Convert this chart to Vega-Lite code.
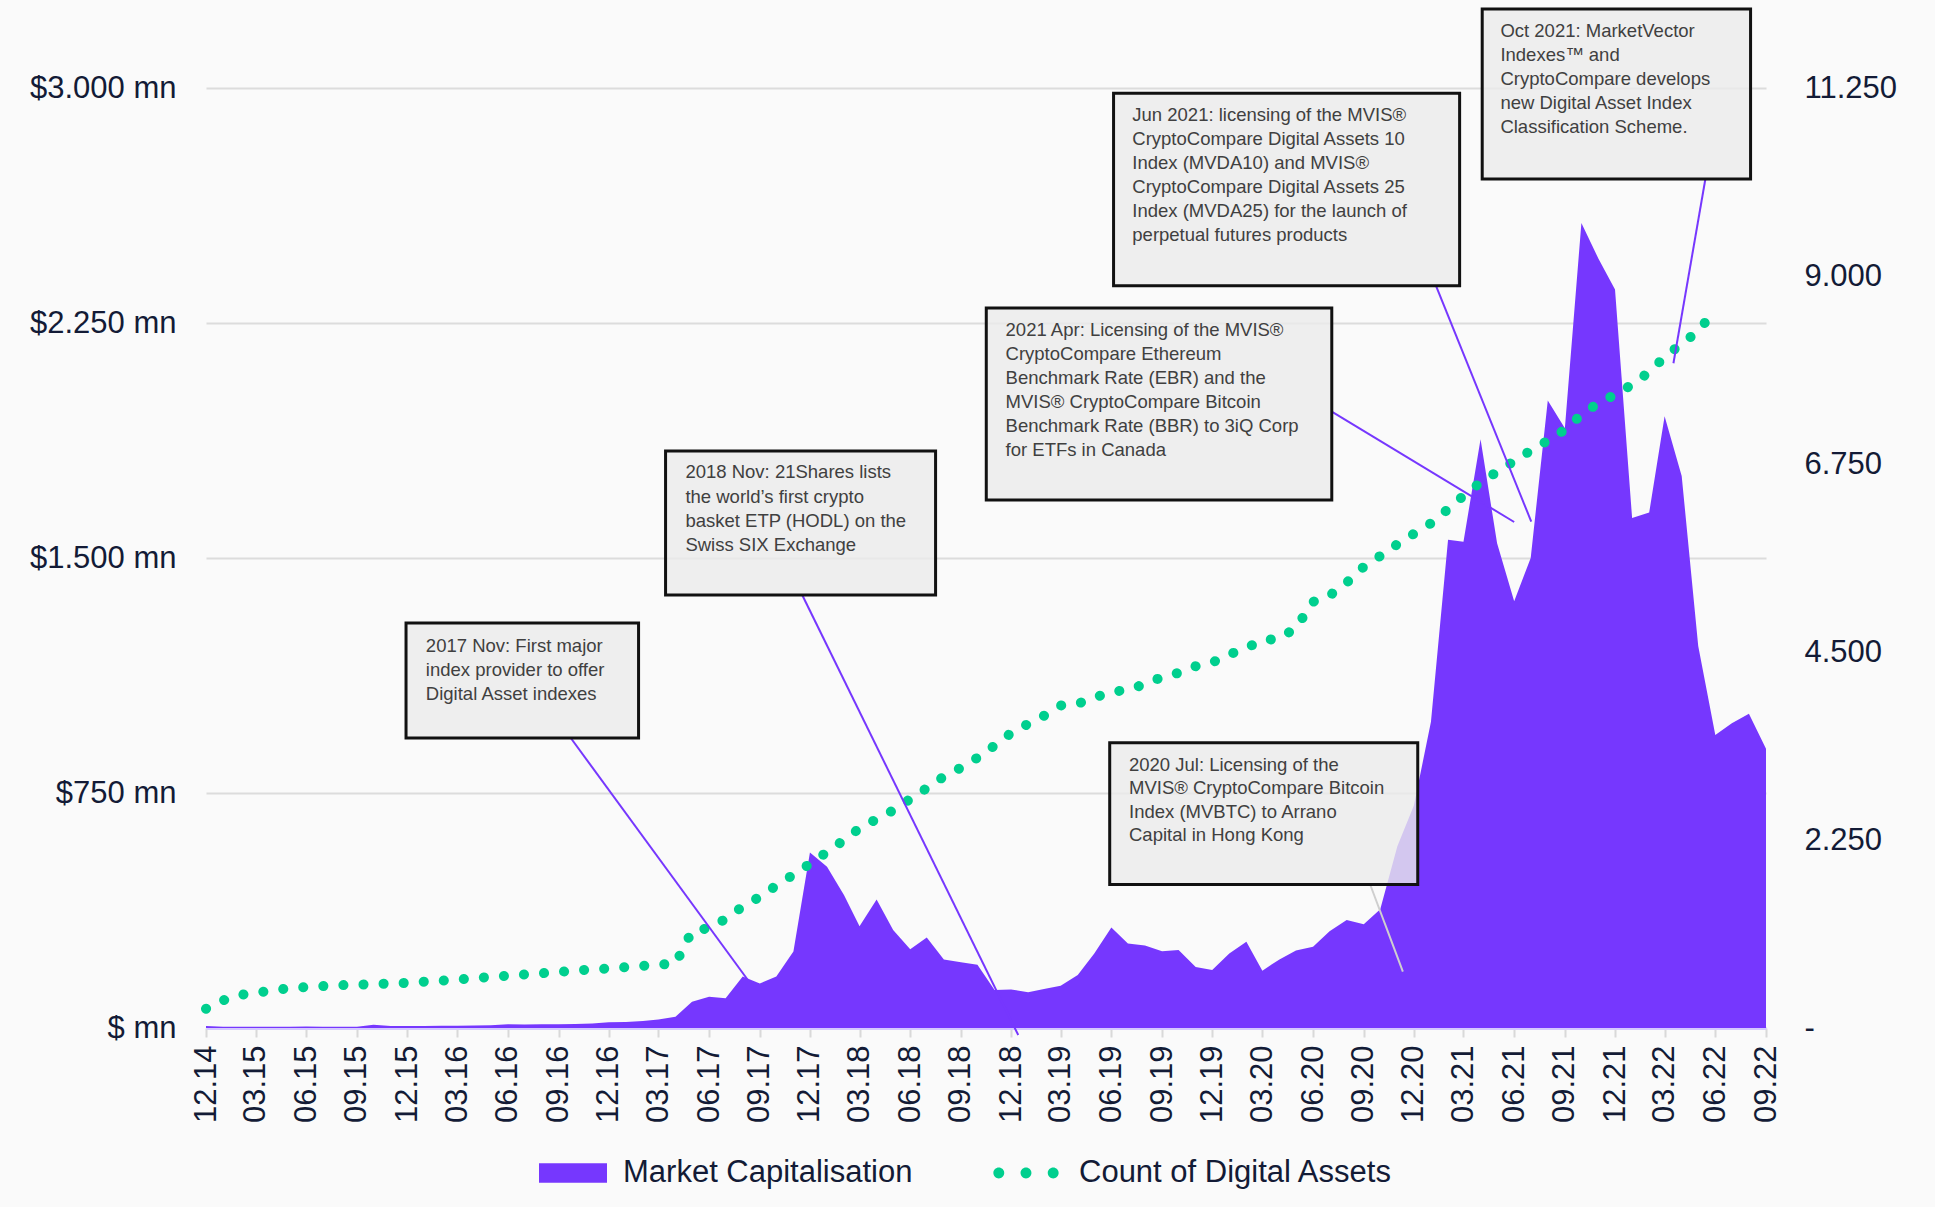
{
  "$schema": "https://vega.github.io/schema/vega-lite/v6.json",
  "width": 1560,
  "height": 940,
  "autosize": {"type": "none"},
  "padding": {"left": 206, "top": 88, "right": 169, "bottom": 179},
  "background": "#fafafa",
  "config": {
    "view": {"stroke": null},
    "font": "Liberation Sans",
    "axis": {"labelFont": "Liberation Sans", "titleFont": "Liberation Sans"},
    "legend": {"labelFont": "Liberation Sans"}
  },
  "datasets": {
    "series": [
      {"d": "2014-12-01", "cap": 6, "count": 230},
      {"d": "2015-01-01", "cap": 4, "count": 330},
      {"d": "2015-02-01", "cap": 4, "count": 395},
      {"d": "2015-03-01", "cap": 4, "count": 420},
      {"d": "2015-04-01", "cap": 4, "count": 450},
      {"d": "2015-05-01", "cap": 4, "count": 475},
      {"d": "2015-06-01", "cap": 5, "count": 490},
      {"d": "2015-07-01", "cap": 4, "count": 502},
      {"d": "2015-08-01", "cap": 4, "count": 512},
      {"d": "2015-09-01", "cap": 4, "count": 518},
      {"d": "2015-10-01", "cap": 10, "count": 525},
      {"d": "2015-11-01", "cap": 6, "count": 533},
      {"d": "2015-12-01", "cap": 6, "count": 540},
      {"d": "2016-01-01", "cap": 6, "count": 555},
      {"d": "2016-02-01", "cap": 7, "count": 566},
      {"d": "2016-03-01", "cap": 7, "count": 580},
      {"d": "2016-04-01", "cap": 8, "count": 597},
      {"d": "2016-05-01", "cap": 9, "count": 612},
      {"d": "2016-06-01", "cap": 12, "count": 626},
      {"d": "2016-07-01", "cap": 11, "count": 640},
      {"d": "2016-08-01", "cap": 12, "count": 655},
      {"d": "2016-09-01", "cap": 12, "count": 670},
      {"d": "2016-10-01", "cap": 13, "count": 688},
      {"d": "2016-11-01", "cap": 14, "count": 702},
      {"d": "2016-12-01", "cap": 18, "count": 712},
      {"d": "2017-01-01", "cap": 19, "count": 728},
      {"d": "2017-02-01", "cap": 22, "count": 745},
      {"d": "2017-03-01", "cap": 27, "count": 758},
      {"d": "2017-04-01", "cap": 36, "count": 770},
      {"d": "2017-05-01", "cap": 84, "count": 1160},
      {"d": "2017-06-01", "cap": 100, "count": 1195},
      {"d": "2017-07-01", "cap": 95, "count": 1305},
      {"d": "2017-08-01", "cap": 164, "count": 1455},
      {"d": "2017-09-01", "cap": 142, "count": 1570},
      {"d": "2017-10-01", "cap": 164, "count": 1705},
      {"d": "2017-11-01", "cap": 244, "count": 1835},
      {"d": "2017-12-01", "cap": 560, "count": 1965},
      {"d": "2018-01-01", "cap": 515, "count": 2105},
      {"d": "2018-02-01", "cap": 424, "count": 2250},
      {"d": "2018-03-01", "cap": 325, "count": 2390},
      {"d": "2018-04-01", "cap": 410, "count": 2500},
      {"d": "2018-05-01", "cap": 313, "count": 2605},
      {"d": "2018-06-01", "cap": 251, "count": 2740},
      {"d": "2018-07-01", "cap": 289, "count": 2870},
      {"d": "2018-08-01", "cap": 219, "count": 3010},
      {"d": "2018-09-01", "cap": 210, "count": 3115},
      {"d": "2018-10-01", "cap": 202, "count": 3235},
      {"d": "2018-11-01", "cap": 121, "count": 3380},
      {"d": "2018-12-01", "cap": 123, "count": 3530},
      {"d": "2019-01-01", "cap": 114, "count": 3640},
      {"d": "2019-02-01", "cap": 125, "count": 3745},
      {"d": "2019-03-01", "cap": 135, "count": 3860},
      {"d": "2019-04-01", "cap": 169, "count": 3880},
      {"d": "2019-05-01", "cap": 238, "count": 3955},
      {"d": "2019-06-01", "cap": 321, "count": 4020},
      {"d": "2019-07-01", "cap": 270, "count": 4050},
      {"d": "2019-08-01", "cap": 263, "count": 4115},
      {"d": "2019-09-01", "cap": 245, "count": 4200},
      {"d": "2019-10-01", "cap": 249, "count": 4250},
      {"d": "2019-11-01", "cap": 195, "count": 4330},
      {"d": "2019-12-01", "cap": 185, "count": 4375},
      {"d": "2020-01-01", "cap": 238, "count": 4470},
      {"d": "2020-02-01", "cap": 275, "count": 4550},
      {"d": "2020-03-01", "cap": 183, "count": 4640},
      {"d": "2020-04-01", "cap": 219, "count": 4660},
      {"d": "2020-05-01", "cap": 247, "count": 4790},
      {"d": "2020-06-01", "cap": 259, "count": 5100},
      {"d": "2020-07-01", "cap": 309, "count": 5175},
      {"d": "2020-08-01", "cap": 345, "count": 5330},
      {"d": "2020-09-01", "cap": 331, "count": 5520},
      {"d": "2020-10-01", "cap": 379, "count": 5650},
      {"d": "2020-11-01", "cap": 580, "count": 5790},
      {"d": "2020-12-01", "cap": 710, "count": 5915},
      {"d": "2021-01-01", "cap": 977, "count": 6040},
      {"d": "2021-02-01", "cap": 1558, "count": 6210},
      {"d": "2021-03-01", "cap": 1552, "count": 6370},
      {"d": "2021-04-01", "cap": 1879, "count": 6530},
      {"d": "2021-05-01", "cap": 1547, "count": 6655},
      {"d": "2021-06-01", "cap": 1362, "count": 6785},
      {"d": "2021-07-01", "cap": 1500, "count": 6910},
      {"d": "2021-08-01", "cap": 2003, "count": 7030},
      {"d": "2021-09-01", "cap": 1914, "count": 7160},
      {"d": "2021-10-01", "cap": 2569, "count": 7340},
      {"d": "2021-11-01", "cap": 2455, "count": 7480},
      {"d": "2021-12-01", "cap": 2357, "count": 7580},
      {"d": "2022-01-01", "cap": 1628, "count": 7700},
      {"d": "2022-02-01", "cap": 1645, "count": 7850},
      {"d": "2022-03-01", "cap": 1952, "count": 8030},
      {"d": "2022-04-01", "cap": 1762, "count": 8190},
      {"d": "2022-05-01", "cap": 1219, "count": 8340},
      {"d": "2022-06-01", "cap": 935, "count": 8600},
      {"d": "2022-07-01", "cap": 973, "count": null},
      {"d": "2022-08-01", "cap": 1003, "count": null},
      {"d": "2022-09-01", "cap": 891, "count": null}
    ],
    "boxes": [
      {"x1": "2015-11-29", "x2": "2017-01-24", "y1": 1292.6, "y2": 925.5},
      {"x1": "2017-03-14", "x2": "2018-07-17", "y1": 1841.5, "y2": 1381.9},
      {"x1": "2019-05-29", "x2": "2020-12-08", "y1": 910.5, "y2": 458.0},
      {"x1": "2018-10-17", "x2": "2020-07-05", "y1": 2297.9, "y2": 1685.1},
      {"x1": "2019-06-05", "x2": "2021-02-22", "y1": 2983.1, "y2": 2369.1},
      {"x1": "2021-04-04", "x2": "2022-08-04", "y1": 3252.1, "y2": 2709.6}
    ],
    "labels": [
      {"tx": "2016-01-04", "ty": 1220.1, "text": "2017 Nov: First major"},
      {"tx": "2016-01-04", "ty": 1142.6, "text": "index provider to offer"},
      {"tx": "2016-01-04", "ty": 1065.0, "text": "Digital Asset indexes"},
      {"tx": "2017-04-19", "ty": 1773.5, "text": "2018 Nov: 21Shares lists"},
      {"tx": "2017-04-19", "ty": 1695.6, "text": "the world’s first crypto"},
      {"tx": "2017-04-19", "ty": 1618.1, "text": "basket ETP (HODL) on the"},
      {"tx": "2017-04-19", "ty": 1540.6, "text": "Swiss SIX Exchange"},
      {"tx": "2019-07-03", "ty": 839.4, "text": "2020 Jul: Licensing of the"},
      {"tx": "2019-07-03", "ty": 765.0, "text": "MVIS® CryptoCompare Bitcoin"},
      {"tx": "2019-07-03", "ty": 690.3, "text": "Index (MVBTC) to Arrano"},
      {"tx": "2019-07-03", "ty": 616.0, "text": "Capital in Hong Kong"},
      {"tx": "2018-11-21", "ty": 2227.7, "text": "2021 Apr: Licensing of the MVIS®"},
      {"tx": "2018-11-21", "ty": 2151.1, "text": "CryptoCompare Ethereum"},
      {"tx": "2018-11-21", "ty": 2073.6, "text": "Benchmark Rate (EBR) and the"},
      {"tx": "2018-11-21", "ty": 1996.9, "text": "MVIS® CryptoCompare Bitcoin"},
      {"tx": "2018-11-21", "ty": 1921.3, "text": "Benchmark Rate (BBR) to 3iQ Corp"},
      {"tx": "2018-11-21", "ty": 1844.7, "text": "for ETFs in Canada"},
      {"tx": "2019-07-09", "ty": 2913.8, "text": "Jun 2021: licensing of the MVIS®"},
      {"tx": "2019-07-09", "ty": 2836.3, "text": "CryptoCompare Digital Assets 10"},
      {"tx": "2019-07-09", "ty": 2759.7, "text": "Index (MVDA10) and MVIS®"},
      {"tx": "2019-07-09", "ty": 2683.1, "text": "CryptoCompare Digital Assets 25"},
      {"tx": "2019-07-09", "ty": 2607.5, "text": "Index (MVDA25) for the launch of"},
      {"tx": "2019-07-09", "ty": 2530.9, "text": "perpetual futures products"},
      {"tx": "2021-05-07", "ty": 3181.9, "text": "Oct 2021: MarketVector"},
      {"tx": "2021-05-07", "ty": 3105.3, "text": "Indexes™ and"},
      {"tx": "2021-05-07", "ty": 3027.8, "text": "CryptoCompare develops"},
      {"tx": "2021-05-07", "ty": 2951.2, "text": "new Digital Asset Index"},
      {"tx": "2021-05-07", "ty": 2876.5, "text": "Classification Scheme."}
    ],
    "leaders": [
      {"x1": "2016-09-23", "y1": 925.5, "x2": "2017-08-13", "y2": 146.8},
      {"x1": "2017-11-17", "y1": 1381.9, "x2": "2018-12-14", "y2": -22.3},
      {"x1": "2020-07-05", "y1": 1966.9, "x2": "2021-06-01", "y2": 1614.9},
      {"x1": "2021-01-10", "y1": 2369.1, "x2": "2021-07-02", "y2": 1616.2},
      {"x1": "2022-05-14", "y1": 2709.6, "x2": "2022-03-17", "y2": 2121.4}
    ],
    "leadersGray": [
      {"x1": "2020-09-13", "y1": 456.4, "x2": "2020-11-11", "y2": 179.7}
    ]
  },
  "layer": [
    {
      "data": {"name": "series"},
      "mark": {"type": "area", "color": "#7637fe", "interpolate": "linear"},
      "encoding": {
        "x": {
          "field": "d", "type": "temporal", "title": null,
          "scale": {"domain": [{"year": 2014, "month": 12, "date": 1, "utc": true}, {"year": 2022, "month": 9, "date": 1, "utc": true}], "nice": false},
          "axis": {
            "values": [
              {"year": 2014, "month": 12, "date": 1, "utc": true},
              {"year": 2015, "month": 3, "date": 1, "utc": true},
              {"year": 2015, "month": 6, "date": 1, "utc": true},
              {"year": 2015, "month": 9, "date": 1, "utc": true},
              {"year": 2015, "month": 12, "date": 1, "utc": true},
              {"year": 2016, "month": 3, "date": 1, "utc": true},
              {"year": 2016, "month": 6, "date": 1, "utc": true},
              {"year": 2016, "month": 9, "date": 1, "utc": true},
              {"year": 2016, "month": 12, "date": 1, "utc": true},
              {"year": 2017, "month": 3, "date": 1, "utc": true},
              {"year": 2017, "month": 6, "date": 1, "utc": true},
              {"year": 2017, "month": 9, "date": 1, "utc": true},
              {"year": 2017, "month": 12, "date": 1, "utc": true},
              {"year": 2018, "month": 3, "date": 1, "utc": true},
              {"year": 2018, "month": 6, "date": 1, "utc": true},
              {"year": 2018, "month": 9, "date": 1, "utc": true},
              {"year": 2018, "month": 12, "date": 1, "utc": true},
              {"year": 2019, "month": 3, "date": 1, "utc": true},
              {"year": 2019, "month": 6, "date": 1, "utc": true},
              {"year": 2019, "month": 9, "date": 1, "utc": true},
              {"year": 2019, "month": 12, "date": 1, "utc": true},
              {"year": 2020, "month": 3, "date": 1, "utc": true},
              {"year": 2020, "month": 6, "date": 1, "utc": true},
              {"year": 2020, "month": 9, "date": 1, "utc": true},
              {"year": 2020, "month": 12, "date": 1, "utc": true},
              {"year": 2021, "month": 3, "date": 1, "utc": true},
              {"year": 2021, "month": 6, "date": 1, "utc": true},
              {"year": 2021, "month": 9, "date": 1, "utc": true},
              {"year": 2021, "month": 12, "date": 1, "utc": true},
              {"year": 2022, "month": 3, "date": 1, "utc": true},
              {"year": 2022, "month": 6, "date": 1, "utc": true},
              {"year": 2022, "month": 9, "date": 1, "utc": true}
            ],
            "labelExpr": "utcFormat(datum.value, '%m.%y')",
            "labelAngle": -90,
            "labelFontSize": 31,
            "labelColor": "#131b36",
            "labelPadding": 8,
            "tickSize": 9,
            "tickColor": "#d9d9d9",
            "tickWidth": 2,
            "domainColor": "#d5c9ff",
            "domainWidth": 3,
            "grid": false,
            "labelOverlap": false,
            "labelFlush": false
          }
        },
        "y": {
          "field": "cap", "type": "quantitative", "title": null,
          "scale": {"domain": [0, 3000], "nice": false},
          "axis": {
            "values": [0, 750, 1500, 2250, 3000],
            "labelExpr": "datum.value == 0 ? '$ mn' : '$' + replace(format(datum.value, ','), ',', '.') + ' mn'",
            "labelFontSize": 31,
            "labelColor": "#131b36",
            "labelPadding": 30,
            "domain": false,
            "ticks": false,
            "grid": true,
            "gridColor": "#dcdcdc",
            "gridWidth": 2
          }
        },
        "fill": {
          "datum": "Market Capitalisation", "type": "nominal",
          "scale": {"range": ["#7637fe"]},
          "legend": {
            "orient": "none", "legendX": 333, "legendY": 1051, "title": null, "padding": 0,
            "symbolType": "M-1,-0.29H1V0.29H-1Z", "symbolSize": 4624, "symbolStrokeWidth": 0,
            "labelFontSize": 31, "labelColor": "#131b36", "labelOffset": 16, "labelLimit": 0
          }
        }
      }
    },
    {
      "data": {"name": "series"},
      "transform": [{"filter": "isValid(datum.count)"}],
      "mark": {"type": "line", "strokeWidth": 10, "strokeCap": "round", "strokeDash": [0.1, 20], "interpolate": "linear"},
      "encoding": {
        "x": {"field": "d", "type": "temporal", "title": null},
        "y": {
          "field": "count", "type": "quantitative", "title": null,
          "scale": {"domain": [0, 11250], "nice": false},
          "axis": {
            "orient": "right",
            "values": [0, 2250, 4500, 6750, 9000, 11250],
            "labelExpr": "datum.value == 0 ? '-' : replace(format(datum.value, ','), ',', '.')",
            "labelFontSize": 31,
            "labelColor": "#131b36",
            "labelPadding": 38,
            "domain": false,
            "ticks": false,
            "grid": false
          }
        },
        "stroke": {
          "datum": "Count of Digital Assets", "type": "nominal",
          "scale": {"range": ["#00cf8e"]},
          "legend": {
            "orient": "none", "legendX": 786, "legendY": 1051, "title": null, "padding": 0,
            "symbolType": "M-0.96,0a0.16,0.16 0 1,0 0.32,0a0.16,0.16 0 1,0 -0.32,0Z M-0.16,0a0.16,0.16 0 1,0 0.32,0a0.16,0.16 0 1,0 -0.32,0Z M0.64,0a0.16,0.16 0 1,0 0.32,0a0.16,0.16 0 1,0 -0.32,0Z",
            "symbolSize": 4624, "symbolFillColor": "#00cf8e", "symbolStrokeWidth": 0,
            "labelFontSize": 31, "labelColor": "#131b36", "labelOffset": 19, "labelLimit": 0
          }
        }
      }
    },
    {
      "layer": [
        {
          "data": {"name": "leadersGray"},
          "mark": {"type": "rule", "color": "#cfcfcf", "strokeWidth": 2},
          "encoding": {
            "x": {"field": "x1", "type": "temporal", "title": null},
            "x2": {"field": "x2"},
            "y": {"field": "y1", "type": "quantitative", "title": null, "scale": {"domain": [0, 3000], "nice": false}, "axis": null},
            "y2": {"field": "y2"}
          }
        },
        {
          "data": {"name": "leaders"},
          "mark": {"type": "rule", "color": "#7637fe", "strokeWidth": 2},
          "encoding": {
            "x": {"field": "x1", "type": "temporal", "title": null},
            "x2": {"field": "x2"},
            "y": {"field": "y1", "type": "quantitative", "title": null, "axis": null},
            "y2": {"field": "y2"}
          }
        },
        {
          "data": {"name": "boxes"},
          "mark": {"type": "rect", "fill": "#ebebeb", "fillOpacity": 0.8, "stroke": "#111111", "strokeWidth": 3},
          "encoding": {
            "x": {"field": "x1", "type": "temporal", "title": null},
            "x2": {"field": "x2"},
            "y": {"field": "y1", "type": "quantitative", "title": null, "axis": null},
            "y2": {"field": "y2"}
          }
        },
        {
          "data": {"name": "labels"},
          "mark": {"type": "text", "align": "left", "baseline": "middle", "fontSize": 18.5, "color": "#404040", "font": "Liberation Sans"},
          "encoding": {
            "x": {"field": "tx", "type": "temporal", "title": null},
            "y": {"field": "ty", "type": "quantitative", "title": null, "axis": null},
            "text": {"field": "text"}
          }
        }
      ]
    }
  ],
  "resolve": {"scale": {"y": "independent"}}
}
